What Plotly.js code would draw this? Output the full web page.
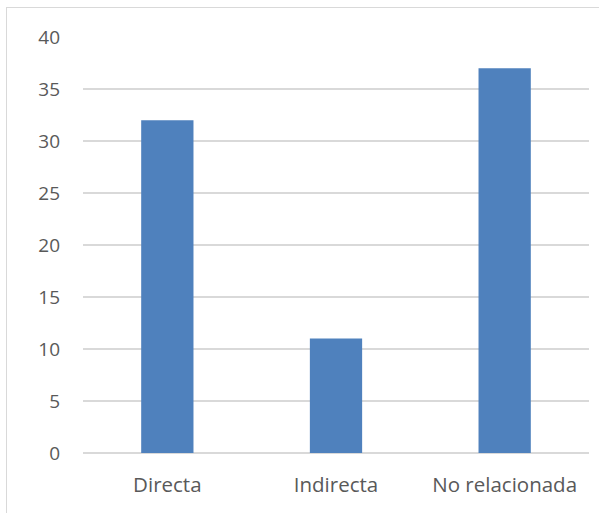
<!DOCTYPE html>
<html>
<head>
<meta charset="utf-8">
<script src="https://cdn.plot.ly/plotly-3.0.1.min.js"></script>
<style>
  html, body { margin: 0; padding: 0; background: #fff; }
  #wrap { position: relative; width: 599px; height: 513px; overflow: hidden; }
  #chart { position: absolute; left: 0; top: 0; width: 599px; height: 513px; }
  #frame { position: absolute; left: 6px; top: 7px; width: 700px; height: 600px;
           border-left: 1.5px solid #d9d9d9; border-top: 1.5px solid #d9d9d9; pointer-events: none; }
</style>
</head>
<body>
<div id="wrap">
  <div id="chart"></div>
  <div id="frame"></div>
</div>
<script>
// Categories and counts
const categories = ["Directa", "Indirecta", "No relacionada"];
const counts = [32, 11, 37];
const yTicks = [0, 5, 10, 15, 20, 25, 30, 35, 40];

const trace = {
  type: "bar",
  x: categories,
  y: counts,
  width: 0.31,
  marker: { color: "#4f81bd" },
  hoverinfo: "x+y"
};

const layout = {
  width: 599,
  height: 513,
  margin: { l: 83, r: 10, t: 37, b: 60 },
  paper_bgcolor: "#ffffff",
  plot_bgcolor: "#ffffff",
  showlegend: false,
  font: { family: "Open Sans, Noto Sans, sans-serif", color: "#595959", size: 19 },
  xaxis: {
    type: "category",
    showgrid: false,
    zeroline: false,
    showline: false,
    ticks: "",
    ticklabelstandoff: 17,
    tickfont: { size: 20.5, color: "#595959" }
  },
  yaxis: {
    range: [0, 40],
    tickvals: yTicks,
    ticktext: yTicks.map(String),
    showgrid: true,
    gridcolor: "#d9d9d9",
    gridwidth: 1.5,
    zeroline: true,
    zerolinecolor: "#d9d9d9",
    zerolinewidth: 1.5,
    showline: false,
    ticks: "",
    ticklabelstandoff: 22,
    tickfont: { size: 19, color: "#595959" }
  }
};

Plotly.newPlot("chart", [trace], layout, { displayModeBar: false, staticPlot: true });
</script>
</body>
</html>
